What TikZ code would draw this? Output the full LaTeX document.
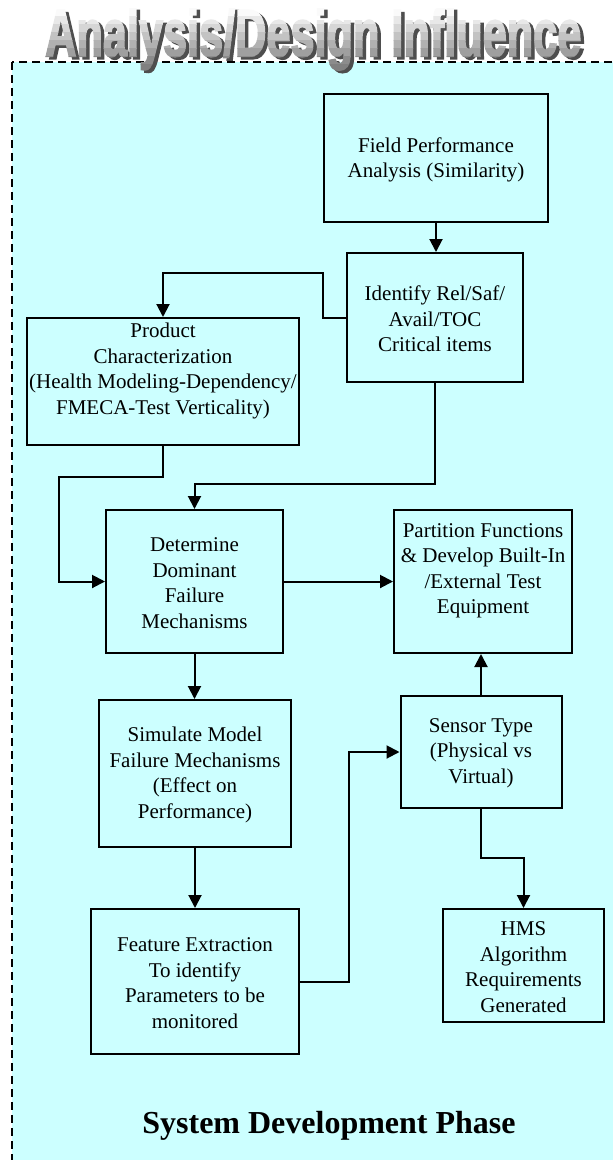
\documentclass[tikz,border=0pt]{standalone}
\usepackage{fontspec}
\setmainfont{Liberation Serif}
\newfontfamily\titlefont{Liberation Sans}[BoldFeatures={FakeBold=3}]
\usetikzlibrary{arrows.meta}
\definecolor{bgcyan}{RGB}{204,255,255}
\definecolor{shadowgray}{RGB}{78,78,78}
\newcommand\titletext{\resizebox{536pt}{48pt}{\titlefont\bfseries Analysis/Design Influence}}
\begin{document}
\begin{tikzpicture}[x=1pt,y=-1pt,
  box/.style={draw, line width=2pt, fill=bgcyan, inner sep=0pt},
  txt/.style={font=\fontsize{21}{25.5}\selectfont, align=center, inner sep=0pt},
  conn/.style={line width=2pt, -{Triangle[length=13pt,width=13pt]}},
  ttl/.style={anchor=base west, inner sep=0pt}]
\clip (0,0) rectangle (613,1160);
\fill[white] (0,0) rectangle (613,1160);
% dashed phase frame
\draw[fill=bgcyan, line width=1.8pt, dash pattern=on 8pt off 5pt] (12,62) rectangle (640,1190);

% title: extruded shadow + vertical gradient face
\node[ttl, text=shadowgray] (tshadow) at (48.5,58.5) {\titletext};
\foreach \i in {0,...,9}{
  \pgfmathsetmacro\ya{8*\i}
  \pgfmathsetmacro\yb{8*\i+8.6}
  \pgfmathsetmacro\p{min(50,max(0,(8*\i+4-10)*0.9))}
  \begin{scope}
    \clip (0,\ya) rectangle (613,\yb);
    \node[ttl, text=black!\p] (tface\i) at (45,56) {\titletext};
  \end{scope}
}

% boxes
\node[box, minimum width=224pt, minimum height=128pt] (field) at (436,158) {};
\node[txt] (fieldt) at (436,160) {Field Performance\\Analysis (Similarity)};

\node[box, minimum width=176pt, minimum height=129pt] (ident) at (435,317.5) {};
\node[txt] (identt) at (435,319) {Identify Rel/Saf/\\Avail/TOC\\Critical items};

\node[box, minimum width=272pt, minimum height=127pt] (prod) at (163,381.5) {};
\node[txt] (prodt) at (163,371) {Product\\Characterization\\(Health Modeling-Dependency/\\FMECA-Test Verticality)};

\node[box, minimum width=177pt, minimum height=143pt] (det) at (194.5,581.5) {};
\node[txt] (dett) at (194.5,583) {Determine\\Dominant\\Failure\\Mechanisms};

\node[box, minimum width=178pt, minimum height=143pt] (part) at (483,581.5) {};
\node[txt] (partt) at (483,571) {Partition Functions\\\& Develop Built-In\\/External Test\\Equipment};

\node[box, minimum width=192pt, minimum height=147pt] (sim) at (195,773.5) {};
\node[txt] (simt) at (195,775) {Simulate Model\\Failure Mechanisms\\(Effect on\\Performance)};

\node[box, minimum width=208pt, minimum height=145pt] (feat) at (195,981.5) {};
\node[txt] (featt) at (195,983) {Feature Extraction\\To identify\\Parameters to be\\monitored};

\node[box, minimum width=161pt, minimum height=112pt] (sens) at (481,752) {};
\node[txt] (senst) at (481,753) {Sensor Type\\(Physical vs\\Virtual)};

\node[box, minimum width=161pt, minimum height=113pt] (hms) at (523.5,965.5) {};
\node[txt] (hmst) at (523.5,967) {HMS\\Algorithm\\Requirements\\Generated};

\node[font=\fontsize{32}{36}\selectfont\bfseries, inner sep=0pt, anchor=base] (phase) at (329,1133) {System Development Phase};

% connectors
\draw[conn] (field.south) -- (field.south |- ident.north);
\draw[conn] (ident.west) -| (323,273) -| (prod.north);
\draw[conn] (prod.south) |- (59,477) |- (det.west);
\draw[conn] (ident.south) |- (300,484) -| (det.north);
\draw[conn] (det.east) -- (det.east -| part.west);
\draw[conn] (det.south) -- (det.south |- sim.north);
\draw[conn] (sim.south) -- (sim.south |- feat.north);
\draw[conn] (feat.east) -| (349,752) -- (sens.west);
\draw[conn] (sens.north) -- (sens.north |- part.south);
\draw[conn] (sens.south) |- (523.5,858) -- (hms.north);
\end{tikzpicture}
\end{document}
